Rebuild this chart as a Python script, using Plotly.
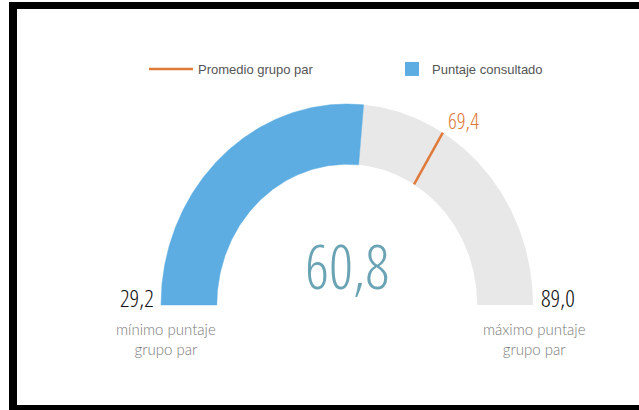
import numpy as np
import plotly.graph_objects as go

# ---- data ----
min_val = 29.2
max_val = 89.0
score = 60.8
group_avg = 69.4
legend_names = ["Promedio grupo par", "Puntaje consultado"]
min_label = "mínimo puntaje<br>grupo par"
max_label = "máximo puntaje<br>grupo par"

# ---- style / layout constants ----
W, H = 639, 410
CX, BASE = 347, 305          # gauge centre (pixels)
RX, RY = 186, 201            # outer radii in pixels
INNER = 0.70                 # inner radius ratio
BLUE, GRAY, ORANGE = "#5DADE2", "#E8E8E8", "#E07A3A"
NUM_FONT = "Open Sans Condensed Light, Roboto Condensed, Roboto"
LBL_FONT = "Lato"


def fmt(v):
    return f"{v:.1f}".replace(".", ",")


def ang(v):
    return np.pi * (1 - (v - min_val) / (max_val - min_val))


def band(v0, v1, n=120):
    t = np.linspace(ang(v0), ang(v1), n)
    xo, yo = np.cos(t), np.sin(t)
    xi, yi = INNER * np.cos(t[::-1]), INNER * np.sin(t[::-1])
    return np.r_[xo, xi, xo[:1]], np.r_[yo, yi, yo[:1]]


fig = go.Figure()

gx, gy = band(score, max_val)
fig.add_trace(go.Scatter(x=gx, y=gy, fill="toself", fillcolor=GRAY, mode="lines",
                         line=dict(width=0, color=GRAY), showlegend=False, hoverinfo="skip"))
bx, by = band(min_val, score)
fig.add_trace(go.Scatter(x=bx, y=by, fill="toself", fillcolor=BLUE, mode="lines",
                         line=dict(width=0.5, color=BLUE), showlegend=False, hoverinfo="skip"))

ta = ang(group_avg)
fig.add_trace(go.Scatter(x=[INNER * np.cos(ta), np.cos(ta)], y=[INNER * np.sin(ta), np.sin(ta)],
                         mode="lines", line=dict(color=ORANGE, width=2.5),
                         name=legend_names[0], legend="legend", hoverinfo="skip"))
fig.add_trace(go.Scatter(x=[None], y=[None], mode="markers",
                         marker=dict(symbol="square", size=14, color=BLUE),
                         name=legend_names[1], legend="legend2", hoverinfo="skip"))

# axes in gauge units (outer radius = 1)
xr = [-CX / RX, (W - CX) / RX]
yr = [-(H - BASE) / RY, BASE / RY]


def px_x(p):
    return (p - CX) / RX


def px_y(p):
    return (BASE - p) / RY


ann = []
ann.append(dict(x=0, y=px_y(266), text=fmt(score), showarrow=False,
                font=dict(family=NUM_FONT, size=60, color="#6AA3B4"),
                xanchor="center", yanchor="middle"))
ann.append(dict(x=px_x(156), y=px_y(297), text=fmt(min_val), showarrow=False,
                font=dict(family=NUM_FONT, size=24, color="#111111"),
                xanchor="right", yanchor="middle"))
ann.append(dict(x=px_x(539), y=px_y(297), text=fmt(max_val), showarrow=False,
                font=dict(family=NUM_FONT, size=24, color="#111111"),
                xanchor="left", yanchor="middle"))
ann.append(dict(x=px_x(446), y=px_y(120), text=fmt(group_avg), showarrow=False,
                font=dict(family=NUM_FONT, size=22, color=ORANGE),
                xanchor="left", yanchor="middle"))
ann.append(dict(x=px_x(166), y=px_y(318), text=min_label, showarrow=False,
                font=dict(family=LBL_FONT, size=15, color="#7a7a7a", weight=300),
                xanchor="center", yanchor="top"))
ann.append(dict(x=px_x(534), y=px_y(318), text=max_label, showarrow=False,
                font=dict(family=LBL_FONT, size=15, color="#7a7a7a", weight=300),
                xanchor="center", yanchor="top"))

shapes = [
    dict(type="rect", xref="paper", yref="paper", x0=9 / W, x1=17 / W, y0=0, y1=1 - 2 / H,
         fillcolor="black", line_width=0, layer="above"),
    dict(type="rect", xref="paper", yref="paper", x0=9 / W, x1=1, y0=1 - 9 / H, y1=1 - 2 / H,
         fillcolor="black", line_width=0, layer="above"),
    dict(type="rect", xref="paper", yref="paper", x0=9 / W, x1=1, y0=0, y1=5 / H,
         fillcolor="black", line_width=0, layer="above"),
]

legend_font = dict(family="Liberation Sans, Arial", size=13, color="#555555")
fig.update_layout(
    width=W, height=H, margin=dict(l=0, r=0, t=0, b=0),
    paper_bgcolor="white", plot_bgcolor="white",
    xaxis=dict(range=xr, visible=False, fixedrange=True),
    yaxis=dict(range=yr, visible=False, fixedrange=True),
    showlegend=True,
    legend=dict(orientation="h", x=144 / W, xanchor="left", y=1 - 69 / H, yanchor="middle",
                font=legend_font, itemwidth=44, bgcolor="rgba(0,0,0,0)"),
    legend2=dict(orientation="h", x=392 / W, xanchor="left", y=1 - 69 / H, yanchor="middle",
                 font=legend_font, itemwidth=30, bgcolor="rgba(0,0,0,0)"),
    annotations=ann, shapes=shapes,
)

fig.write_html("out.html", config={"displayModeBar": False},
               post_script="document.body.style.margin='0';")
